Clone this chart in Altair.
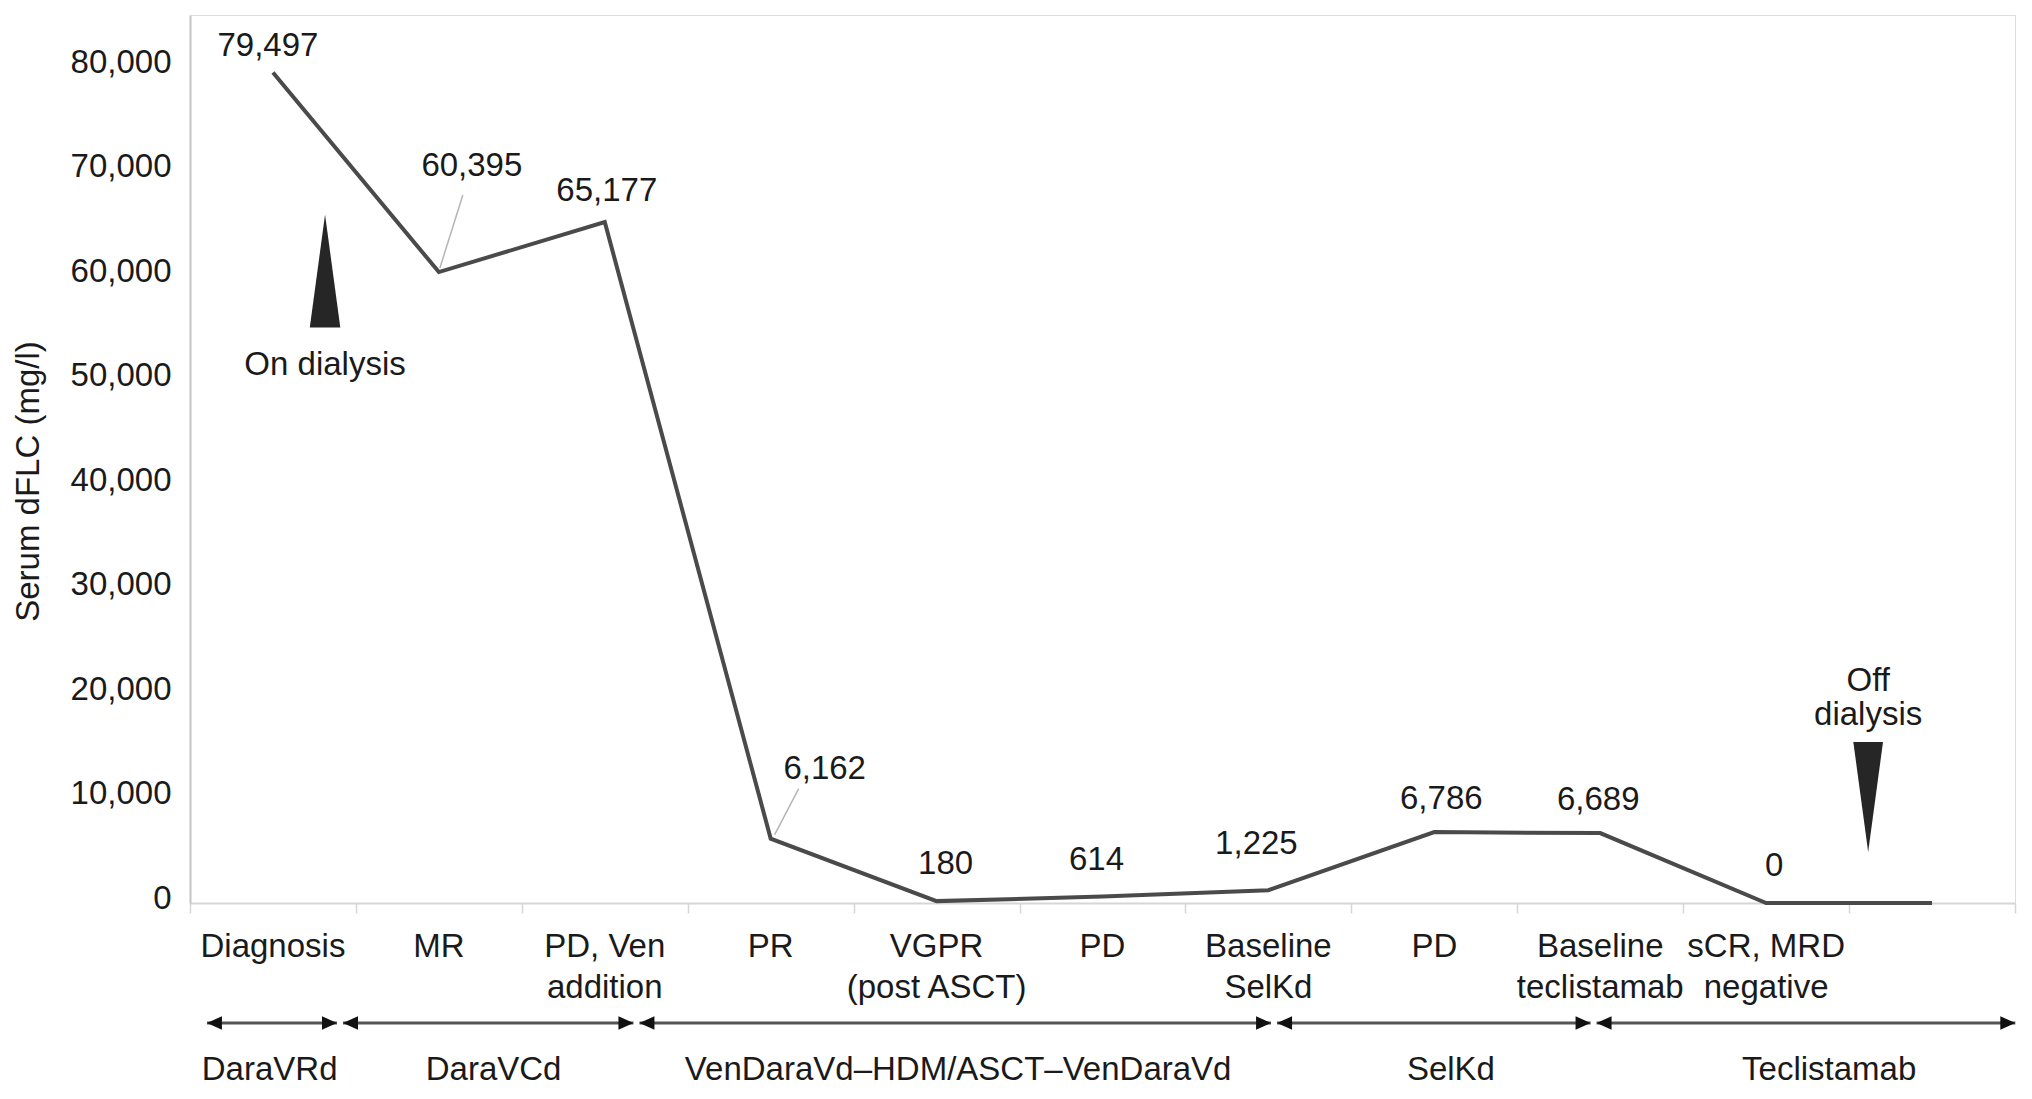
import altair as alt
import pandas as pd

# ---------------- data ----------------
categories = ["Diagnosis", "MR", "PD, Ven\naddition", "PR", "VGPR\n(post ASCT)", "PD",
              "Baseline\nSelKd", "PD", "Baseline\nteclistamab", "sCR, MRD\nnegative", ""]
values = [79497, 60395, 65177, 6162, 180, 614, 1225, 6786, 6689, 0, 0]
value_labels = ["79,497", "60,395", "65,177", "6,162", "180", "614", "1,225", "6,786", "6,689", "0", ""]

regimens = ["DaraVRd", "DaraVCd", "VenDaraVd\u2013HDM/ASCT\u2013VenDaraVd", "SelKd", "Teclistamab"]
regimen_start = [0.084, 0.904, 2.691, 6.534, 8.460]
regimen_end = [0.904, 2.691, 6.534, 8.460, 11.02]
regimen_label_pos = [0.48, 1.83, 4.63, 7.60, 9.88]

dialysis_text = ["On dialysis", "Off\ndialysis"]
dialysis_pos = [0.814, 10.115]
dialysis_wedge_value = [60490, 10150]
dialysis_text_value = [51500, 20300]

# label offsets (pixels) relative to the data point
label_dx = [-5, 33, 2, 54, 9, -6, -12, 7, -2, 8, 0]
label_dy = [-26, -106, -31, -70, -37, -37, -46, -33, -33, -37, 0]
# leader lines: (index, x-start, y-start, x-end, y-end) offsets in pixels
leaders = [(1, 1, -4, 24, -77), (3, 4, -4, 28, -50)]

FONT = "Liberation Sans"
TEXT = "#1a1a1a"
FS = 33
PLOT_W, PLOT_H = 1825, 888

df = pd.DataFrame({
    "pos": [i + 0.5 for i in range(len(categories))],
    "category": categories,
    "value": values,
    "label": value_labels,
})
seg = pd.DataFrame({"regimen": regimens, "start": regimen_start, "end": regimen_end,
                    "lpos": regimen_label_pos})
dia = pd.DataFrame({"text": dialysis_text, "pos": dialysis_pos,
                    "wv": dialysis_wedge_value, "tv": dialysis_text_value})

x_scale = alt.Scale(domain=[0, 11], nice=False, zero=False)
y_scale = alt.Scale(domain=[0, 85000], nice=False)

x_axis = alt.Axis(values=list(range(12)), labels=False, ticks=True, tickSize=10,
                  tickColor="#d6d6d6", tickWidth=1.5, domainColor="#d6d6d6",
                  domainWidth=2, grid=False, title=None)
y_axis = alt.Axis(values=list(range(0, 80001, 10000)), format=",d", ticks=False, grid=False,
                  domainColor="#c4c4c4", domainWidth=2, labelFontSize=FS, labelFont=FONT,
                  labelColor=TEXT, labelPadding=19, labelOffset=-5,
                  title="Serum dFLC (mg/l)", titleFontSize=FS, titleFont=FONT,
                  titleFontWeight="normal", titleColor=TEXT, titleX=-162, titleY=466,
                  titleAngle=270, titleAlign="center", titleBaseline="middle")

X = alt.X("pos:Q", scale=x_scale, axis=x_axis)
Y = alt.Y("value:Q", scale=y_scale, axis=y_axis)

line = alt.Chart(df).mark_line(color="#4a4a4a", strokeWidth=4).encode(x=X, y=Y)

layers = [line]

# value labels
for i in range(len(categories)):
    if not value_labels[i]:
        continue
    layers.append(
        alt.Chart(df.iloc[[i]]).mark_text(
            dx=label_dx[i], dy=label_dy[i], fontSize=FS, font=FONT, color=TEXT,
            baseline="middle", align="center"
        ).encode(x=alt.X("pos:Q", scale=x_scale), y=alt.Y("value:Q", scale=y_scale),
                 text="label:N")
    )

# leader lines
for (i, x1, y1, x2, y2) in leaders:
    layers.append(
        alt.Chart(df.iloc[[i]]).mark_rule(
            color="#b5b5b5", strokeWidth=1.5, xOffset=x1, yOffset=y1,
            x2Offset=x2, y2Offset=y2
        ).encode(x=alt.X("pos:Q", scale=x_scale), x2="pos:Q",
                 y=alt.Y("value:Q", scale=y_scale), y2="value:Q")
    )

# category labels under the axis
layers.append(
    alt.Chart(df).mark_text(fontSize=FS, font=FONT, color=TEXT, align="center",
                            baseline="alphabetic", lineBreak="\n", lineHeight=41).encode(
        x=alt.X("pos:Q", scale=x_scale), y=alt.value(942), text="category:N")
)

# dialysis wedges
up_path = "M0,-1L0.27,1L-0.27,1Z"
down_path = "M0,1L0.27,-1L-0.27,-1Z"
layers.append(
    alt.Chart(dia.iloc[[0]]).mark_point(shape=up_path, size=113 ** 2, filled=True,
                                        color="#262626", opacity=1, strokeWidth=1).encode(
        x=alt.X("pos:Q", scale=x_scale), y=alt.Y("wv:Q", scale=y_scale))
)
layers.append(
    alt.Chart(dia.iloc[[1]]).mark_point(shape=down_path, size=110 ** 2, filled=True,
                                        color="#262626", opacity=1, strokeWidth=1).encode(
        x=alt.X("pos:Q", scale=x_scale), y=alt.Y("wv:Q", scale=y_scale))
)
layers.append(
    alt.Chart(dia.iloc[[0]]).mark_text(fontSize=FS, font=FONT, color=TEXT, align="center",
                                       baseline="middle").encode(
        x=alt.X("pos:Q", scale=x_scale), y=alt.Y("tv:Q", scale=y_scale), text="text:N")
)
layers.append(
    alt.Chart(dia.iloc[[1]]).mark_text(fontSize=FS, font=FONT, color=TEXT, align="center",
                                       baseline="alphabetic", lineBreak="\n",
                                       lineHeight=34).encode(
        x=alt.X("pos:Q", scale=x_scale), y=alt.Y("tv:Q", scale=y_scale), text="text:N")
)

# regimen arrows
ARROW_Y = 1008
layers.append(
    alt.Chart(seg).mark_rule(color="#555555", strokeWidth=3, xOffset=3, x2Offset=-3).encode(
        x=alt.X("start:Q", scale=x_scale), x2="end:Q", y=alt.value(ARROW_Y))
)
left_head = "M-1,0L1,-0.9L1,0.9Z"
right_head = "M1,0L-1,-0.9L-1,0.9Z"
layers.append(
    alt.Chart(seg).mark_point(shape=left_head, size=225, filled=True, color="#111111",
                              opacity=1, xOffset=10.5).encode(
        x=alt.X("start:Q", scale=x_scale), y=alt.value(ARROW_Y))
)
layers.append(
    alt.Chart(seg).mark_point(shape=right_head, size=225, filled=True, color="#111111",
                              opacity=1, xOffset=-10.5).encode(
        x=alt.X("end:Q", scale=x_scale), y=alt.value(ARROW_Y))
)
layers.append(
    alt.Chart(seg).mark_text(fontSize=FS, font=FONT, color=TEXT, align="center",
                             baseline="alphabetic").encode(
        x=alt.X("lpos:Q", scale=x_scale), y=alt.value(1065), text="regimen:N")
)

chart = alt.layer(*layers).properties(
    width=PLOT_W, height=PLOT_H,
    autosize=alt.AutoSizeParams(type="none"),
    padding={"left": 182, "top": 7, "right": 9, "bottom": 184},
).configure_view(stroke=None).configure(background="white")

chart.save("out.html", embed_options={"renderer": "svg", "actions": False})
